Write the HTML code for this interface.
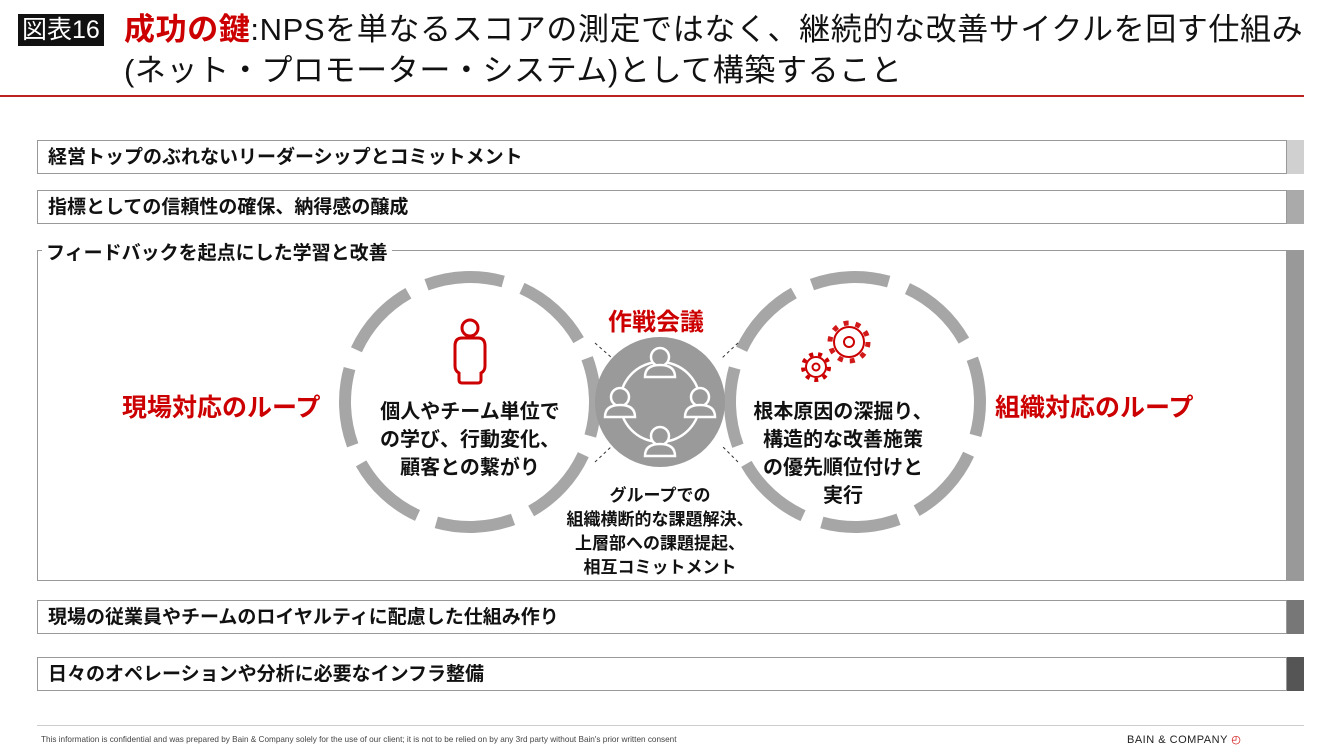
<!DOCTYPE html>
<html><head><meta charset="utf-8"><style>
body{margin:0;width:1340px;height:754px;background:#fff;position:relative;overflow:hidden;font-family:"Liberation Sans","Noto Sans CJK JP",sans-serif;}
.a{position:absolute;}
.bar{position:absolute;left:37px;width:1250px;height:34px;border:1px solid #999;box-sizing:border-box;font-size:19px;font-weight:bold;line-height:34px;padding-left:10px;color:#111;}
.tab{position:absolute;left:1287px;width:17px;}
</style></head><body>
<div class="a" style="left:18px;top:14px;background:#111;color:#fff;font-size:25px;padding:0 4px;line-height:32px;">図表16</div>
<div class="a" style="left:124px;top:9px;font-size:31px;line-height:41px;color:#111;white-space:nowrap;letter-spacing:0.6px;"><span style="color:#c00;font-weight:bold;">成功の鍵</span>:NPSを単なるスコアの測定ではなく、継続的な改善サイクルを回す仕組み<br>(ネット・プロモーター・システム)として構築すること</div>
<div class="a" style="left:0;top:95px;width:1304px;height:2px;background:#b22;"></div>

<div class="bar" style="top:140px;">経営トップのぶれないリーダーシップとコミットメント</div><div class="tab" style="top:140px;height:34px;background:#d0d0d0"></div>
<div class="bar" style="top:190px;">指標としての信頼性の確保、納得感の醸成</div><div class="tab" style="top:190px;height:34px;background:#aaa"></div>
<div class="a" style="left:37px;top:250px;width:1250px;height:331px;border:1px solid #999;box-sizing:border-box;"></div><div class="tab" style="top:250px;height:331px;background:#999"></div>
<div class="a" style="left:42px;top:238px;background:#fff;font-size:19px;font-weight:bold;padding:0 4px;color:#111;">フィードバックを起点にした学習と改善</div>
<div class="bar" style="top:600px;">現場の従業員やチームのロイヤルティに配慮した仕組み作り</div><div class="tab" style="top:600px;height:34px;background:#777"></div>
<div class="bar" style="top:657px;">日々のオペレーションや分析に必要なインフラ整備</div><div class="tab" style="top:657px;height:34px;background:#555"></div>

<svg class="a" style="left:0;top:0" width="1340" height="754">
<g fill="none" stroke="#a6a6a6" stroke-width="12">
<circle cx="470" cy="402" r="125" stroke-dasharray="78 20" transform="rotate(-20 470 402)"/>
<circle cx="855" cy="402" r="125" stroke-dasharray="78 20" transform="rotate(160 855 402)"/>
</g>
<g stroke="#333" stroke-width="1" stroke-dasharray="3 3">
<line x1="595" y1="343" x2="612" y2="358"/><line x1="738" y1="343" x2="722" y2="358"/>
<line x1="595" y1="462" x2="612" y2="446"/><line x1="738" y1="462" x2="722" y2="446"/>
</g>
<circle cx="660" cy="402" r="65" fill="#9a9a9a"/>
<g fill="none" stroke="#fff" stroke-width="2.5">
<circle cx="660" cy="402" r="40"/>
<g fill="#9a9a9a">
<circle cx="660" cy="357" r="9"/><path d="M645 377 q0-12 15-12 q15 0 15 12z"/>
<circle cx="620" cy="397" r="9"/><path d="M605 417 q0-12 15-12 q15 0 15 12z"/>
<circle cx="700" cy="397" r="9"/><path d="M685 417 q0-12 15-12 q15 0 15 12z"/>
<circle cx="660" cy="436" r="9"/><path d="M645 456 q0-12 15-12 q15 0 15 12z"/>
</g></g>
<g fill="none" stroke="#c00" stroke-width="3">
<circle cx="470" cy="328" r="8"/>
<path d="M462 338 q-7 0-7 8 v20 q0 5 4 7 v7 q0 3 3 3 h16 q3 0 3-3 v-7 q4-2 4-7 v-20 q0-8-7-8z"/>
</g>
<g fill="none" stroke="#c00" stroke-width="2">
<circle cx="849" cy="342" r="19" stroke-width="5" stroke-dasharray="5 7" opacity="0.9"/><circle cx="849" cy="342" r="15"/><circle cx="849" cy="342" r="5"/>
<circle cx="816" cy="367" r="13" stroke-width="4" stroke-dasharray="4 5"/><circle cx="816" cy="367" r="10"/><circle cx="816" cy="367" r="3.5"/>
</g>
</svg>

<div class="a" style="left:122px;top:388px;font-size:25px;font-weight:bold;color:#c00;">現場対応のループ</div>
<div class="a" style="left:995px;top:388px;font-size:25px;font-weight:bold;color:#c00;">組織対応のループ</div>
<div class="a" style="left:608px;top:302px;font-size:24px;font-weight:bold;color:#c00;">作戦会議</div>
<div class="a" style="left:360px;top:398px;width:220px;text-align:center;font-size:20px;font-weight:bold;line-height:28px;color:#111;">個人やチーム単位で<br>の学び、行動変化、<br>顧客との繋がり</div>
<div class="a" style="left:738px;top:398px;width:210px;text-align:center;font-size:20px;font-weight:bold;line-height:28px;color:#111;">根本原因の深掘り、<br>構造的な改善施策<br>の優先順位付けと<br>実行</div>
<div class="a" style="left:550px;top:484px;width:220px;text-align:center;font-size:17px;font-weight:bold;line-height:24px;color:#111;">グループでの<br>組織横断的な課題解決、<br>上層部への課題提起、<br>相互コミットメント</div>

<div class="a" style="left:37px;top:725px;width:1267px;height:1px;background:#ccc;"></div>
<div class="a" style="left:41px;top:735px;font-size:8.2px;color:#444;">This information is confidential and was prepared by Bain &amp; Company solely for the use of our client; it is not to be relied on by any 3rd party without Bain's prior written consent</div>
<div class="a" style="left:1127px;top:733px;font-size:11px;color:#222;letter-spacing:0.5px;">BAIN &amp; COMPANY <span style="color:#c00;">&#9716;</span></div>
</body></html>
